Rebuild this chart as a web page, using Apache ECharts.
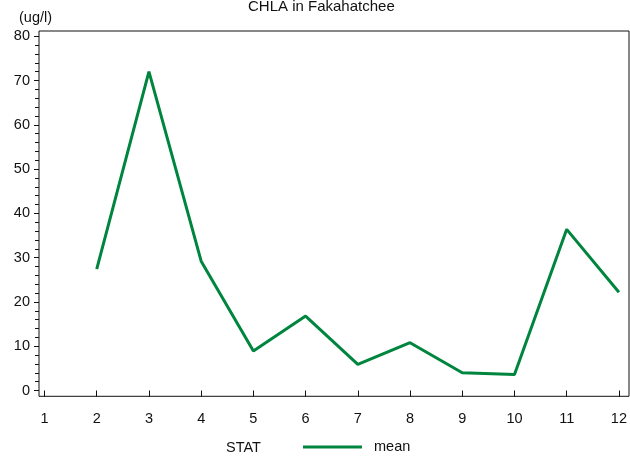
<!DOCTYPE html>
<html>
<head>
<meta charset="utf-8">
<script src="https://cdn.jsdelivr.net/npm/echarts@6/dist/echarts.min.js"></script>
<style>
html,body{margin:0;padding:0;background:#fff;}
#c{width:630px;height:460px;}
</style>
</head>
<body>
<div id="c"></div>
<script>
const categories = [2, 3, 4, 5, 6, 7, 8, 9, 10, 11, 12];
const meanValues = [27.4, 72.0, 29.2, 8.9, 16.8, 5.9, 10.8, 4.0, 3.6, 36.4, 22.2];
const xTicks = [1, 2, 3, 4, 5, 6, 7, 8, 9, 10, 11, 12];
const yTicks = [0, 10, 20, 30, 40, 50, 60, 70, 80];
const titleText = 'CHLA in Fakahatchee';
const yUnit = '(ug/l)';
const legendTitle = 'STAT';
const seriesName = 'mean';

const FONT = '"Liberation Sans", Arial, sans-serif';
const GREEN = '#00853F';
const chart = echarts.init(document.getElementById('c'), null, {renderer: 'canvas'});

const data = categories.map((c, i) => [c, meanValues[i]]);

chart.setOption({
  animation: false,
  backgroundColor: '#fff',
  textStyle: {fontFamily: FONT},
  title: [
    {text: titleText, left: 248, top: -0.5, padding: 0,
     textStyle: {fontFamily: FONT, fontSize: 15, fontWeight: 'normal', color: '#111'}},
    {text: yUnit, left: 19, top: 10, padding: 0,
     textStyle: {fontFamily: FONT, fontSize: 14.5, fontWeight: 'normal', color: '#111'}},
    {text: legendTitle, left: 226, top: 440.5, padding: 0,
     textStyle: {fontFamily: FONT, fontSize: 14.5, fontWeight: 'normal', color: '#111'}}
  ],
  legend: {
    left: 303, top: 439.5, padding: 0,
    itemWidth: 59, itemHeight: 14,
    icon: 'path://M0,6 L59,6 L59,9 L0,9 Z',
    itemStyle: {color: GREEN},
    textStyle: {fontFamily: FONT, fontSize: 14.5, color: '#111', padding: [2, 0, 0, 7]},
    data: [seriesName]
  },
  grid: [
    {left: 44.5, right: 6, top: 36.3, bottom: 69.5},
    {left: 39, right: 1, top: 31, bottom: 63.7, show: true, borderColor: '#111', borderWidth: 1, backgroundColor: 'transparent'}
  ],
  xAxis: [
    {type: 'value', gridIndex: 0, min: xTicks[0], max: xTicks[xTicks.length - 1], interval: 1,
     offset: 5.8,
     axisLine: {show: false},
     axisTick: {show: true, length: 6, lineStyle: {color: '#111'}},
     axisLabel: {margin: 15, fontFamily: FONT, fontSize: 14.5, color: '#111'},
     splitLine: {show: false}},
    {type: 'value', gridIndex: 1, show: false}
  ],
  yAxis: [
    {type: 'value', gridIndex: 0, min: yTicks[0], max: yTicks[yTicks.length - 1], interval: 10,
     offset: 5.5,
     axisLine: {show: false},
     axisTick: {show: true, length: 5, lineStyle: {color: '#111'}},
     minorTick: {show: true, splitNumber: 5, length: 4, lineStyle: {color: '#111'}},
     axisLabel: {margin: 9, fontFamily: FONT, fontSize: 14.5, color: '#111'},
     splitLine: {show: false}},
    {type: 'value', gridIndex: 1, show: false}
  ],
  series: [{
    name: seriesName,
    type: 'line',
    xAxisIndex: 0, yAxisIndex: 0,
    data: data,
    symbol: 'none',
    lineStyle: {color: GREEN, width: 3},
    itemStyle: {color: GREEN}
  }]
});
</script>
</body>
</html>
